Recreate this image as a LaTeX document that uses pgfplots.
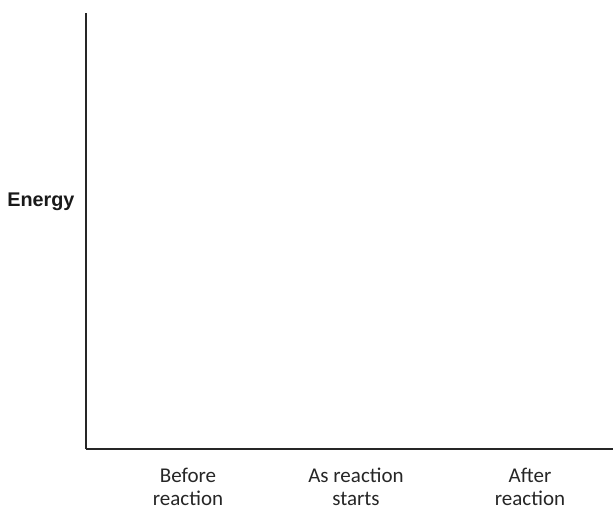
\documentclass[border=0pt]{standalone}
\usepackage{fontspec}
\setmainfont{Carlito}
\newfontfamily\arialfont{Liberation Sans}
\usepackage{pgfplots}
\pgfplotsset{compat=1.18}
\begin{document}
\begin{tikzpicture}[x=1pt,y=1pt]
\useasboundingbox (0,0) rectangle (613,512);
\begin{axis}[
  at={(86pt,63pt)}, anchor=south west,
  scale only axis, width=527pt, height=436pt,
  xmin=86, xmax=613, ymin=0, ymax=1,
  axis x line*=bottom, axis y line*=left,
  axis line style={line width=2.5pt, black!85},
  ytick=\empty,
  xtick={188,356,530},
  xticklabels={{Before\\reaction},{As reaction\\starts},{After\\reaction}},
  major tick length=0pt,
  xticklabel style={align=center, anchor=north, inner sep=0pt, yshift=-19pt,
    font=\fontsize{21}{23}\selectfont, text=black!85},
  ylabel={\arialfont\bfseries Energy},
  ylabel style={rotate=-90, at={(rel axis cs:0,0.567)}, anchor=east, xshift=-8pt,
    font=\fontsize{19.8}{22}\selectfont, text=black!90},
]
\addplot[draw=none] coordinates {(300,0.5)};
\end{axis}
\end{tikzpicture}
\end{document}
